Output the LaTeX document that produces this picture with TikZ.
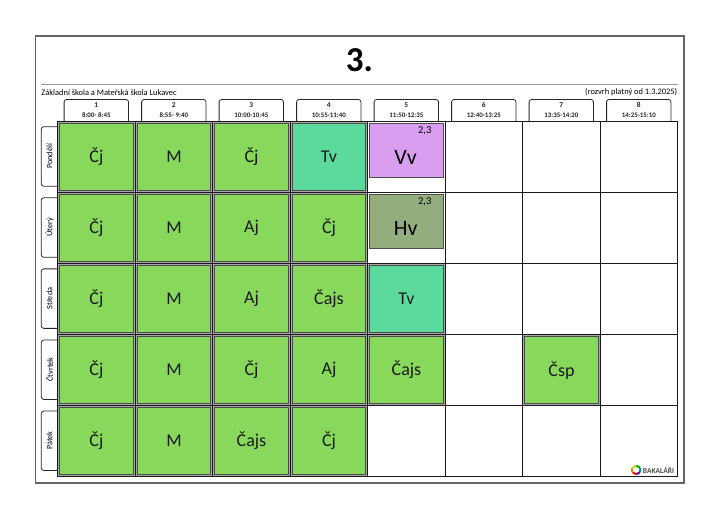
\documentclass[tikz,border=0pt]{standalone}
\usepackage{fontspec}
\setmainfont{Carlito}
\tikzset{
  x=1pt,y=-1pt,
  gridline/.style={draw=black!90,line width=0.9pt},
  tab/.style={draw=black!85,fill=white,line width=0.8pt},
  cellbox/.style={draw=black!70,line width=0.9pt,inner sep=0pt,outer sep=0pt,text=black!90,font=\fontsize{18}{18}\selectfont,anchor=center},
  halo/.style={draw=black!35,line width=0.8pt},
  hdrnum/.style={font=\fontsize{7.4}{8}\selectfont\bfseries,text=black!85,inner sep=0pt},
  hdrtime/.style={font=\fontsize{6.9}{8}\selectfont\bfseries,text=black!85,inner sep=0pt},
  daytext/.style={font=\fontsize{8.3}{9}\selectfont,text=black,rotate=90,inner sep=0pt},
  smalltext/.style={font=\fontsize{8.4}{9}\selectfont,text=black,inner sep=0pt},
}
\definecolor{cgreen}{RGB}{136,216,92}
\definecolor{cteal}{RGB}{92,217,157}
\definecolor{cviolet}{RGB}{218,158,240}
\definecolor{colive}{RGB}{147,174,124}
\newcommand{\lesson}[5]{% name, col, row, colour, text
  \pgfmathsetmacro{\lx}{57.7+77.5*(#2-1)}
  \pgfmathsetmacro{\ty}{121.3+71.08*(#3-1)}
  \path[halo] (\lx+0.9,\ty+0.9) rectangle (\lx+76.6,\ty+70.2);
  \node[cellbox,fill=#4,minimum width=73.6pt,minimum height=67.2pt] (#1) at (\lx+38.75,\ty+35.54) {#5};
}
\newcommand{\halfcell}[5]{% name, col, row, colour, text
  \pgfmathsetmacro{\lx}{57.7+77.5*(#2-1)}
  \pgfmathsetmacro{\ty}{121.3+71.08*(#3-1)}
  \node[cellbox,fill=#4,minimum width=73.6pt,minimum height=54pt] (#1) at (\lx+38.75,\ty+29) {};
  \node[font=\fontsize{22}{22}\selectfont,text=black,inner sep=0pt] (#1t) at (\lx+38,\ty+36.5) {#5};
  \node[font=\fontsize{10.5}{11}\selectfont,text=black,inner sep=0pt] (#1n) at (\lx+57,\ty+9) {2,3};
}
\begin{document}
\begin{tikzpicture}
\useasboundingbox (0,0) rectangle (723,507);
\fill[white] (0,0) rectangle (723,507);
\draw[draw=black!60,line width=1.1pt,fill=white] (35.5,36) rectangle (684,483);
\node[font=\fontsize{35}{35}\selectfont\bfseries,text=black,inner sep=0pt] (title) at (359.5,60) {3.};
\draw[draw=black!40,line width=0.7pt] (41,84) -- (678,84);
\node[smalltext,anchor=west] (school) at (41.3,92.2) {Základní škola a Mateřská škola Lukavec};
\node[smalltext,anchor=east] (valid) at (677.5,92.2) {(rozvrh platný od 1.3.2025)};
% column headers
\foreach \c/\t [count=\i] in {1/8:00- 8:45,2/8:55- 9:40,3/10:00-10:45,4/10:55-11:40,5/11:50-12:35,6/12:40-13:25,7/13:35-14:20,8/14:25-15:10}{
  \pgfmathsetmacro{\lx}{57.7+77.5*(\i-1)}
  \draw[tab,rounded corners=2.5pt] (\lx+6.4,122) -- (\lx+6.4,99.5) -- (\lx+70.8,99.5) -- (\lx+70.8,122);
  \node[hdrnum] (hn\i) at (\lx+38.6,105.2) {\c};
  \node[hdrtime] (ht\i) at (\lx+38.6,115.5) {\t};
}
% day tabs
\foreach \d [count=\i] in {Pondělí,Úterý,Středa,Čtvrtek,Pátek}{
  \pgfmathsetmacro{\ty}{121.3+71.08*(\i-1)}
  \draw[tab,rounded corners=2.5pt] (58,\ty+5.4) -- (41.3,\ty+5.4) -- (41.3,\ty+64.9) -- (58,\ty+64.9);
  \node[daytext] (day\i) at (49.5,\ty+35) {\d};
}
% grid
\foreach \i in {0,...,8}{
  \pgfmathsetmacro{\lx}{57.7+77.5*\i}
  \draw[gridline] (\lx,121.3) -- (\lx,476.7);
}
\foreach \i in {0,...,5}{
  \pgfmathsetmacro{\ty}{121.3+71.08*\i}
  \draw[gridline] (57.7,\ty) -- (677.7,\ty);
}
% lessons
\foreach \n/\c/\r/\k/\t in {
 a/1/1/cgreen/Čj,b/2/1/cgreen/M,c/3/1/cgreen/Čj,d/4/1/cteal/Tv,
 e/1/2/cgreen/Čj,f/2/2/cgreen/M,g/3/2/cgreen/Aj,h/4/2/cgreen/Čj,
 i/1/3/cgreen/Čj,j/2/3/cgreen/M,k/3/3/cgreen/Aj,l/4/3/cgreen/Čajs,m/5/3/cteal/Tv,
 n/1/4/cgreen/Čj,o/2/4/cgreen/M,p/3/4/cgreen/Čj,q/4/4/cgreen/Aj,r/5/4/cgreen/Čajs,s/7/4/cgreen/Čsp,
 t/1/5/cgreen/Čj,u/2/5/cgreen/M,v/3/5/cgreen/Čajs,w/4/5/cgreen/Čj}{
  \lesson{\n}{\c}{\r}{\k}{\t}
}
\halfcell{vv}{5}{1}{cviolet}{Vv}
\halfcell{hv}{5}{2}{colive}{Hv}
% logo
\foreach \a/\k in {90/red!80!orange,150/orange,210/yellow!80!green,270/green!70!black,330/cyan!70!blue,30/violet}{
  \draw[\k,line width=2pt] (636.3,470)++(\a:4.4) -- ++(\a+120:4.4);
}
\node[font=\fontsize{7.5}{8}\selectfont\bfseries,text=black!70,inner sep=0pt,anchor=west] (logo) at (642.7,470.3) {BAKALÁŘI};
\end{tikzpicture}
\end{document}
